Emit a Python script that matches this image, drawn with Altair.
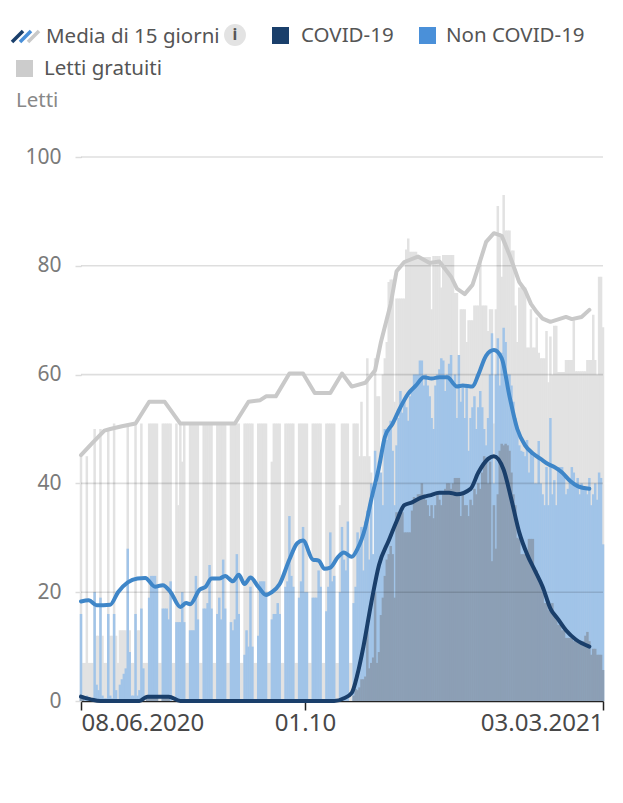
import altair as alt
import pandas as pd

FONT = "Noto Sans"
C_DARK, C_BLUE, C_GREY = "#1a3f6b", "#3f86c8", "#c9c9c9"

free_beds = [
 45,7,7,45,7,7,7, 50,12,12,50,12,7,7, 50,12,12,51,12,7,13, 13,13,13,51,13,7,7,
 51,13,13,51,7,7,7, 51,51,51,51,51,7,7, 51,51,51,51,51,7,7, 51,36,51,44,51,7,7,
 51,51,51,51,51,7,7, 51,51,51,51,51,7,7, 51,51,51,51,51,7,7, 51,51,51,51,51,7,7,
 51,51,51,51,51,7,7, 51,51,51,51,51,7,7, 44,51,51,51,51,7,7, 51,51,51,51,51,7,7,
 51,51,51,51,51,7,7, 51,51,51,51,51,7,7, 51,51,51,51,51,7,7, 36,51,51,51,51,7,7,
 51,51,51,45,55,45,45, 63,45,42,15,63,56,56, 40,60,63,66,77,77.5,77.5,
 55,74,74,74,74,74,83, 85,82.6,82.6,82.6,82.6,82,81.6, 81.6,81.6,81.6,81.6,81.6,72,81.8,
 81.8,81.8,81.8,76,82,82,82, 82,82,82,75,75,58,72, 72,72,66,70,70,70,72.7,
 72.7,72.7,81.6,72.7,72.7,72.7,68, 72,72,51,72,91,86,78, 93,86.5,86.5,86.5,82.8,82.8,72.7,
 66,76,76,76,76,65,65, 72,65,65,70.5,64,63,63, 63,68,58.6,67,60,69,69,
 60.5,60.5,60.5,60.5,62.7,62.7,62.7, 62.7,70,60.6,60.6,60.6,60.6,60.6,
 60.6,62.7,62.7,62.7,71,62.7,60, 78,78,68.7]

non_covid = [
 16,0.5,0.5,1,0.5,0,0, 20,3,2,19,1,0.5,0.5, 16,1,0.5,16,2,0,3, 4,5,6,28,9,1,1,
 16,1,2,17,6,0,0, 19,23,23,23,21,0,0, 17,17,17,15,22,0,0, 14.5,14.5,14.5,20,14.5,0,0,
 13,13,13,23,15,0,0, 17,17,18,25,17,0,0, 16,19,15,26,17,0,0, 14.5,13,15,27,16,0,0,
 8.5,13,10,21,10,0,0, 12,22,22,22,20,0,0, 15,16,16,18,16,0,0, 21,22,34,23,21,0,0,
 19,22,32,20,20,0,0, 19,19,19,24,21,0,0, 16.5,21,31,22,23,0,0, 20,32,26,24,33,0,0,
 18,21,31,28,32,24,33, 35,26,40,27,46,40,44, 42,36,50,48,50,51.5,46,
 36,47,52,57,53,55,54, 51.5,56,57,60,60,60,62.6, 62.6,58,60,58,56,52,50,
 58,60,61,63,62.6,57,60, 62,63.6,58,60,52,63.6,55, 58,52,58,46,52,54,56,
 50,54,57,54,50,47,52, 60,67.6,40,60,66.7,58,64, 68.6,66,60,60,58,55,52,
 50,47,46,45.8,45,48,42, 45.5,45,40,40,47.8,40,38, 36,43,36,52,38,40.6,36,
 43,43,43,41.2,38,39,41, 43,42,40,41,38,40,39, 38.8,38,41,36,38,40,37, 42,41,28.8]

covid = [
 1,1,0,0,0,0,0, 0,0,0,0,0,0,0, 0,0,0,0,0,0,0, 0,0,0,0,0,0,0,
 0,0,0,0,0,0,1, 1,1,1,1,1,0,0, 1,1,1,1,0,0,0, 0,0,0,0,0,0,0,
 0,0,0,0,0,0,0, 0,0,0,0,0,0,0, 0,0,0,0,0,0,0, 0,0,0,0,0,0,0,
 0,0,0,0,0,0,0, 0,0,0,0,0,0,0, 0,0,0,0,0,0,0, 0,0,0,0,0,0,0,
 0,0,0,0,0,0,0, 0,0,0,0,0,0,0, 0,0,0,0,0,0,0, 0,0,0,0,0,0,0,
 1,2.2,2,2.5,4,4,4.5, 13.7,6,7,8,19.9,7,9, 15.8,19,23,26,27,28.5,27,
 19,34.7,34.7,34.7,34.7,31,31, 31,31,35,37.5,37,38,38, 40,38,37,36,34,36,33.6,
 36,38,37,36,38,39,40, 40,39,40,41,41,41,34, 38,36,36,34,37,36,39,
 38,40,39,42,45,44,40, 44,25.7,36,28,38,46,47.3, 47,47.3,47,46,42,38,36,
 30,29.8,27,27,27,27,29.8, 29.8,29.8,24.5,24,23,22,20, 18,18,16.7,17,18,16,15,
 14,14,13,13,11.6,11.6,11.6, 11.6,11,11,11,10.5,10.5,11, 12,12.7,11,8.5,9.6,9.6,8.5, 8.5,8.5,5.7]

grey_days = [0,6,12,15,21,28,35,43,51,79,86,92,95,100,107,114,120,128,134,139,146,151,154,159,162,166,173,179,184,190,193,197,201,203,208,212,216,220,223,225,228,231,234,237,241,249,252,257,261]
grey_vals = [45.2,47.5,49.7,50,50.5,51,55,55,51,51,55,55.3,56,56,60.2,60.2,56.6,56.6,60.2,57.8,58.5,60.8,66,73,79,80.7,81.7,80.5,80.8,78,75.8,74.8,76.5,78.7,84.4,86,85.5,82,79,77,75.5,73,71.5,70.3,69.7,70.6,70.2,70.6,71.9]
blue_days = [0,4,8,15,19,24,29,33,38,42,46,51,54,56,61,64,67,71,74,78,81,84,87,91,95,98,102,107,111,114,119,122,125,128,132,135,139,142,146,149,153,156,160,164,168,172,176,180,184,188,193,196,201,204,208,212,216,220,224,228,232,236,240,243,247,251,255,261]
blue_vals = [18.3,18.5,17.6,17.7,20,21.8,22.5,22.6,21,21.3,20,17.3,18,17.8,20.5,21,22.5,22.5,23,22,23.2,21.5,22.7,21,19.5,20,21.5,26,29,29.5,26,25.8,24.3,24.5,26.5,27.3,26.5,28,32,37,43,48.5,51,54,56.5,58,59.5,59.3,59.5,59.5,57.8,58,57.8,60,63.5,64.5,63,56,50,47,45.5,44.5,43.5,43,42,40.5,39.5,39]
dark_days = [0,5,10,30,34,45,51,130,135,139,142,145,149,153,158,162,166,170,174,179,184,189,193,200,204,209,212,217,221,225,229,233,237,241,245,249,254,261]
dark_vals = [0.8,0.3,0,0,0.8,0.8,0,0,0.5,1.5,5,10,18,25,29.5,33,36,36.5,37.3,37.8,38.3,38.3,38,39,42,44.5,45,42.5,37,31,27,24,21,17,15,13,11.3,10]
grid_values = [20, 40, 60, 80, 100]
y_ticks = [0, 20, 40, 60, 80, 100]
x_ticks = [0, 115, 268]

bars = pd.DataFrame({"day": range(len(covid)), "free": free_beds, "non": non_covid, "covid": covid})
X = alt.X("day:Q", scale=alt.Scale(domain=[0, 268], nice=False, zero=False, padding=0),
          axis=alt.Axis(values=x_ticks, title=None, grid=False, domainColor="#222222", domainWidth=1.5,
                        tickColor="#222222", tickSize=9, tickWidth=1.5, labelFont=FONT, labelFontSize=24,
                        labelColor="#484848", labelPadding=1, labelFlush=False, labelOverlap=False,
                        labelAlign=alt.expr("datum.value == 0 ? 'left' : datum.value == 268 ? 'right' : 'center'"),
                        labelExpr="datum.value == 0 ? '08.06.2020' : datum.value == 115 ? '01.10' : '03.03.2021'"))
Y = alt.Y("v:Q", scale=alt.Scale(domain=[0, 100], nice=False, padding=0),
          axis=alt.Axis(values=y_ticks, title=None, grid=False, domain=False, tickColor="#dcdcdc", tickSize=6,
                        tickWidth=1.5, labelFont=FONT, labelFontSize=21, labelColor="#7a7a7a", labelPadding=14))

def bar(col, color):
    return alt.Chart(bars).transform_calculate(v=f"datum.{col}").mark_bar(size=2.5, color=color).encode(x=X, y=Y)

def line(days, vals, color, interp):
    df = pd.DataFrame({"day": days, "v": vals})
    return alt.Chart(df).mark_line(color=color, strokeWidth=4, strokeJoin="round", strokeCap="round", interpolate=interp).encode(x=X, y=Y)

grid = alt.Chart(pd.DataFrame({"v": grid_values})).mark_rule(color="#000000", opacity=0.13, strokeWidth=1.6).encode(y=Y)

# legend chrome, offsets from the plot origin
def txt(s, px, py, size=20.5, color="#555555", weight="normal", align="left"):
    return alt.Chart(pd.DataFrame({"t": [s]})).mark_text(text=s, font=FONT, fontSize=size, color=color, fontWeight=weight,
        align=align, baseline="middle").encode(x=alt.value(px - 81), y=alt.value(py - 157))

def square(px, py, color, s=17):
    return alt.Chart(pd.DataFrame({"t": [0]})).mark_rect(color=color).encode(
        x=alt.value(px - 81), x2=alt.value(px - 81 + s), y=alt.value(py - 157), y2=alt.value(py - 157 + s))

def stroke(x0, y0, x1, y1, color):
    return alt.Chart(pd.DataFrame({"t": [0]})).mark_rule(color=color, strokeWidth=3.5).encode(
        x=alt.value(x0 - 81), x2=alt.value(x1 - 81), y=alt.value(y0 - 157), y2=alt.value(y1 - 157))

circle = alt.Chart(pd.DataFrame({"t": [0]})).mark_point(filled=True, color="#e3e3e3", size=480, opacity=1).encode(
    x=alt.value(235 - 81), y=alt.value(35 - 157))

layers = [bar("free", "#e2e2e2"), bar("non", "#a1c4e8"), bar("covid", "#8c9fb5"), grid,
          line(grey_days, grey_vals, C_GREY, "linear"), line(blue_days, blue_vals, C_BLUE, "monotone"), line(dark_days, dark_vals, C_DARK, "monotone"),
          stroke(12, 42, 23, 31, C_DARK), stroke(20, 42, 31, 31, "#4a90d9"), stroke(28, 42, 39, 31, C_GREY),
          txt("Media di 15 giorni", 46, 37), circle, txt("i", 235, 35, size=16, weight="bold", align="center"),
          square(272, 27, C_DARK), txt("COVID-19", 301, 36),
          square(419, 27, "#4a90d9"), txt("Non COVID-19", 446, 36),
          square(16, 60, "#cccccc"), txt("Letti gratuiti", 44, 69),
          txt("Letti", 16, 101, color="#888888")]

chart = alt.layer(*layers).properties(
    width=522, height=544,
    padding={"left": 73, "top": 149, "right": 12, "bottom": 80},
    autosize=alt.AutoSizeParams(type="none"),
    background="white",
).configure_view(stroke=None)

chart.save("out.html", embed_options={"renderer": "svg", "actions": False})
